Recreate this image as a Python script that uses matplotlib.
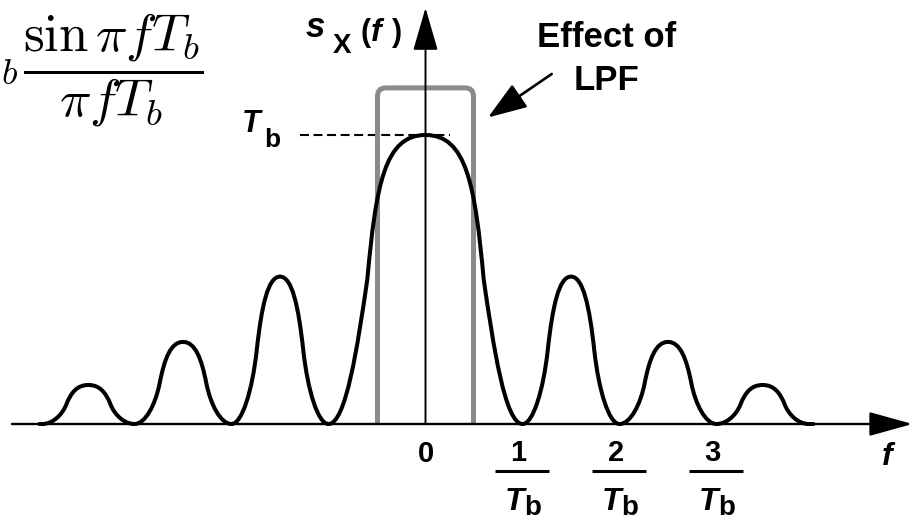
import matplotlib
matplotlib.use('Agg')
import matplotlib.pyplot as plt
from matplotlib.path import Path
from matplotlib.patches import PathPatch, FancyArrowPatch, ArrowStyle
from matplotlib.transforms import Affine2D, blended_transform_factory

# ---------------- data ----------------
lobe_edges = [-3.95, -3, -2, -1, 1, 2, 3, 3.95]          # spectral nulls, units of 1/Tb
lobe_heights = [0.135, 0.284, 0.51, 1.0, 0.51, 0.284, 0.135]  # lobe peaks, units of Tb
tick_positions = [1, 2, 3]
tick_numerators = ['1', '2', '3']
lpf_halfwidth = 0.495
lpf_height = 1.163

W, H = 916, 522
plt.rcParams['font.family'] = ['Liberation Sans', 'DejaVu Sans']
plt.rcParams['mathtext.fontset'] = 'custom'
plt.rcParams['mathtext.it'] = 'Liberation Sans:italic:bold'
plt.rcParams['mathtext.rm'] = 'Liberation Sans:bold'
plt.rcParams['mathtext.bf'] = 'Liberation Sans:bold'

fig = plt.figure(figsize=(W / 100, H / 100), dpi=100)
ax = fig.add_axes([0, 0, 1, 1])
ax.set_xlim(-425.5 / 97, (W - 425.5) / 97)
ax.set_ylim(-(H - 424) / 289, 424 / 289)
ax.axis('off')

tp = Affine2D().scale(1, -1).translate(0, H)          # pixel coords, origin top-left
bx = blended_transform_factory(ax.transData, tp)      # x data, y pixels

# ---------------- spectrum curve (Bezier lobes) ----------------
MAIN = [((0.18, 0), (0.30, 0.27), (0.40, 0.5)), ((0.49, 0.83), (0.58, 1), (1, 1))]
SIDE = [((0.22, 0), (0.43, 0.23), (0.52, 0.5)), ((0.62, 0.8), (0.75, 1), (1, 1))]
verts = [(lobe_edges[0] - 0.03, 0), (lobe_edges[0], 0)]
codes = [Path.MOVETO, Path.LINETO]
hmax = max(lobe_heights)
for z0, z1, h in zip(lobe_edges[:-1], lobe_edges[1:], lobe_heights):
    w = (z1 - z0) / 2
    shape = MAIN if h == hmax else SIDE
    pts = [(0, 0)] + [p for seg in shape for p in seg]
    for u, v in pts[1:]:
        verts.append((z0 + u * w, v * h)); codes.append(Path.CURVE4)
    for u, v in pts[:-1][::-1]:
        verts.append((z0 + (2 - u) * w, v * h)); codes.append(Path.CURVE4)
verts.append((lobe_edges[-1] + 0.05, 0)); codes.append(Path.LINETO)
ax.add_patch(PathPatch(Path(verts, codes), fill=False, ec='black', lw=2.9,
                       capstyle='round', joinstyle='round', zorder=4))

# ---------------- LPF box ----------------
rx, ry = 0.085, 0.03
x0, x1 = -lpf_halfwidth, lpf_halfwidth
lv = [(x0, 0), (x0, lpf_height - ry), (x0, lpf_height), (x0 + rx, lpf_height),
      (x1 - rx, lpf_height), (x1, lpf_height), (x1, lpf_height - ry), (x1, 0)]
lc = [Path.MOVETO, Path.LINETO, Path.CURVE3, Path.CURVE3, Path.LINETO,
      Path.CURVE3, Path.CURVE3, Path.LINETO]
ax.add_patch(PathPatch(Path(lv, lc), fill=False, ec='#8a8a8a', lw=3.6, zorder=3))

# ---------------- axes with arrows ----------------
ax.add_patch(FancyArrowPatch((-4.263, 0), (5.02, 0),
             arrowstyle=ArrowStyle('-|>', head_length=27, head_width=7.5),
             mutation_scale=1, lw=1.7, color='black', shrinkA=0, shrinkB=0, zorder=5))
ax.add_patch(FancyArrowPatch((0, 0), (0, 1.44),
             arrowstyle=ArrowStyle('-|>', head_length=27, head_width=7.8),
             mutation_scale=1, lw=1.4, color='black', shrinkA=0, shrinkB=0, zorder=5))

# T_b dashed level
ax.plot([-1.294, 0.253], [hmax, hmax], color='black', lw=1.5,
        ls=(0, (4.3, 2.2)), zorder=2)

# ---------------- texts ----------------
# formula in the top-left corner (its leading factor is cropped in the reference,
# only the subscript b is visible)
fig.text(203, 70, r'$\dfrac{\sin\pi fT_b}{\pi fT_b}$', math_fontfamily='cm',
         fontsize=38, ha='right', va='center', transform=tp)
fig.text(1, 84, r'$b$', math_fontfamily='cm', fontsize=26, ha='left',
         va='baseline', transform=tp)

# s_X(f) label
fig.text(306, 37, 's', fontsize=25, fontweight='bold', fontstyle='italic',
         ha='left', va='baseline', transform=tp)
fig.text(333, 53, 'X', fontsize=20, fontweight='bold', ha='left', va='baseline',
         transform=tp)
fig.text(361, 41, '(', fontsize=22, fontweight='bold', ha='left', va='baseline',
         transform=tp)
fig.text(371, 41, 'f', fontsize=23, fontweight='bold', fontstyle='italic',
         ha='left', va='baseline', transform=tp)
fig.text(392, 41, ')', fontsize=22, fontweight='bold', ha='left', va='baseline',
         transform=tp)

# T_b level label
fig.text(242, 132, 'T', fontsize=22, fontweight='bold', fontstyle='italic',
         ha='left', va='baseline', transform=tp)
fig.text(264, 147, 'b', fontsize=19, fontweight='bold', ha='left', va='baseline',
         transform=tp)

fig.text(607, 47, 'Effect of', fontsize=25, fontweight='bold', ha='center',
         va='baseline', transform=tp)
fig.text(607, 90, 'LPF', fontsize=25, fontweight='bold', ha='center',
         va='baseline', transform=tp)
fig.patches.append(FancyArrowPatch((551.7, 74), (488, 117.5), transform=tp,
                   arrowstyle=ArrowStyle('-|>', head_length=24, head_width=8.5),
                   mutation_scale=1, lw=1.9, color='black', shrinkA=0, shrinkB=0,
                   figure=fig))

# tick labels
fig.text(426, 462, '0', fontsize=21, fontweight='bold', ha='center', va='baseline',
         transform=tp)
for xv, num in zip(tick_positions, tick_numerators):
    ax.text(xv - 0.04, 461, num, fontsize=21, fontweight='bold', ha='center',
            va='baseline', transform=bx)
    ax.plot([xv - 0.28, xv + 0.27], [471, 471], color='black', lw=2.2,
            transform=bx, solid_capstyle='butt', clip_on=False)
    ax.text(xv - 0.18, 510, 'T', fontsize=23, fontweight='bold', fontstyle='italic',
            ha='left', va='baseline', transform=bx)
    ax.text(xv + 0.02, 515, 'b', fontsize=20, fontweight='bold', ha='left',
            va='baseline', transform=bx)

fig.text(882, 465, 'f', fontsize=23, fontweight='bold', fontstyle='italic',
         ha='left', va='baseline', transform=tp)

fig.savefig('out.png', dpi=100)
